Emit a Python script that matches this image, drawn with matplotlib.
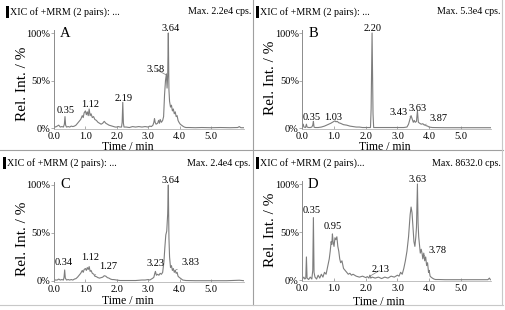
import matplotlib
matplotlib.use('Agg')
import matplotlib.pyplot as plt
from matplotlib.patches import Rectangle
from matplotlib.lines import Line2D

plt.rcParams['font.family'] = ['Liberation Serif', 'DejaVu Serif']

# ---- data ----
time_A = [0.00, 0.05, 0.10, 0.15, 0.20, 0.25, 0.30, 0.33, 0.35, 0.37, 0.40, 0.45, 0.50, 0.55, 0.60,
          0.65, 0.70, 0.75, 0.80, 0.85, 0.90, 0.93, 0.96, 1.00, 1.03, 1.06, 1.09, 1.12, 1.15, 1.18,
          1.22, 1.26, 1.30, 1.35, 1.40, 1.45, 1.50, 1.55, 1.60, 1.65, 1.70, 1.75, 1.80, 1.85, 1.90,
          1.95, 2.00, 2.05, 2.10, 2.15, 2.17, 2.19, 2.21, 2.23, 2.30, 2.40, 2.50, 2.60, 2.70, 2.80,
          2.90, 3.00, 3.05, 3.10, 3.15, 3.18, 3.20, 3.22, 3.25, 3.30, 3.33, 3.36, 3.38, 3.42, 3.46,
          3.49, 3.52, 3.55, 3.58, 3.60, 3.62, 3.64, 3.66, 3.68, 3.71, 3.74, 3.77, 3.80, 3.83, 3.86,
          3.89, 3.92, 3.95, 3.98, 4.02, 4.06, 4.10, 4.15, 4.20, 4.30, 4.50, 4.70, 5.00, 5.30, 5.60,
          5.85, 5.90, 5.95, 6.05]
int_A = [2, 1, 2, 3, 1, 1.5, 1, 4, 12, 3, 1, 1.5, 1, 2, 1.5,
         2, 3, 5, 7, 9, 13, 11, 16, 18, 14, 17, 13, 20, 13, 15,
         11, 12, 9, 8, 6, 5, 4, 5, 7, 5, 4, 3, 2.5, 2, 1.5,
         1, 1, 1.5, 1, 1, 6, 27, 5, 1, 1, 0.5, 1.5, 1, 1.5, 1,
         1.5, 1, 2, 1.5, 3, 6, 10, 6, 4, 5, 8, 5, 9, 6, 8,
         12, 35, 50, 57, 42, 55, 100, 40, 28, 22, 24, 18, 20, 15, 17,
         12, 13, 8, 6, 4, 3, 2, 1, 0.5, 0.5, 0.3, 0.5, 0.3, 0.5, 0.3,
         0.5, 1.5, 0.3, 0.3]

time_B = [0.00, 0.03, 0.05, 0.10, 0.13, 0.15, 0.20, 0.25, 0.30, 0.33, 0.35, 0.37, 0.40, 0.50, 0.60,
          0.70, 0.80, 0.90, 0.95, 1.00, 1.03, 1.06, 1.10, 1.15, 1.20, 1.30, 1.40, 1.50, 1.60, 1.70,
          1.80, 1.90, 2.00, 2.10, 2.15, 2.17, 2.20, 2.23, 2.25, 2.40, 2.60, 2.80, 3.00, 3.10, 3.20,
          3.30, 3.35, 3.40, 3.43, 3.46, 3.50, 3.53, 3.56, 3.60, 3.63, 3.66, 3.70, 3.75, 3.80, 3.85,
          3.87, 3.90, 3.95, 4.00, 4.10, 4.50, 5.00, 5.50, 5.95]
int_B = [1, 4, 1, 0.5, 4, 1, 0.5, 0.5, 1, 3, 7, 1, 0.5, 0.5, 1,
         2, 3.5, 5, 6, 7, 7.5, 6.5, 7, 5.5, 5, 3.5, 3, 2, 1.5, 1,
         1, 0.5, 0.5, 0.5, 0.5, 20, 100, 15, 0.5, 0.5, 0.5, 0.5, 0.5, 0.5, 0.5,
         1, 4, 10, 13, 10, 6, 8, 6, 7, 18, 6, 5, 4, 4.5, 3,
         3.5, 2.5, 2, 1, 0.5, 0.3, 0.3, 0.3, 0.3]

time_C = [0.00, 0.03, 0.10, 0.15, 0.20, 0.25, 0.30, 0.32, 0.34, 0.36, 0.40, 0.45, 0.50, 0.55, 0.60,
          0.65, 0.70, 0.75, 0.80, 0.85, 0.90, 0.93, 0.96, 1.00, 1.03, 1.06, 1.09, 1.12, 1.15, 1.18,
          1.22, 1.27, 1.30, 1.35, 1.40, 1.45, 1.50, 1.55, 1.60, 1.65, 1.70, 1.75, 1.80, 1.85, 1.90,
          2.00, 2.10, 2.20, 2.40, 2.60, 2.80, 2.90, 3.00, 3.05, 3.10, 3.15, 3.18, 3.21, 3.23, 3.26,
          3.30, 3.34, 3.38, 3.42, 3.46, 3.50, 3.53, 3.56, 3.59, 3.62, 3.64, 3.66, 3.68, 3.71, 3.74,
          3.77, 3.80, 3.83, 3.86, 3.89, 3.92, 3.95, 3.98, 4.02, 4.06, 4.10, 4.20, 4.50, 5.00, 5.50,
          5.90, 6.05]
int_C = [3, 1, 1, 2, 1, 1.5, 1, 4, 11.5, 3, 1, 1.5, 1, 1.5, 1,
         2, 2.5, 4, 6, 8, 11, 9, 12, 13, 11, 14, 12, 15, 10, 11,
         8, 7, 5, 4.5, 3.5, 3, 3.5, 4, 5.5, 5, 3.5, 3, 2, 1.5, 1.5,
         1, 0.5, 0.5, 0.5, 0.5, 1, 1, 1.5, 1, 2, 3, 4, 8, 10, 6,
         7, 6, 8, 7, 9, 20, 35, 48, 52, 70, 100, 45, 25, 14, 16,
         11, 13, 9, 11, 8, 9, 5, 4, 3, 2, 1, 0.5, 0.3, 0.3, 0.3,
         0.8, 0.3]

time_D = [0.00, 0.05, 0.08, 0.11, 0.13, 0.15, 0.20, 0.25, 0.30, 0.33, 0.35, 0.37, 0.40, 0.45, 0.50,
          0.55, 0.60, 0.65, 0.70, 0.75, 0.80, 0.85, 0.88, 0.91, 0.93, 0.95, 0.97, 1.00, 1.03, 1.06,
          1.09, 1.12, 1.15, 1.18, 1.21, 1.25, 1.30, 1.35, 1.40, 1.45, 1.50, 1.55, 1.60, 1.70, 1.80,
          1.90, 2.00, 2.05, 2.10, 2.13, 2.16, 2.20, 2.30, 2.40, 2.50, 2.60, 2.70, 2.80, 2.90, 3.00,
          3.05, 3.10, 3.15, 3.20, 3.25, 3.30, 3.35, 3.40, 3.43, 3.46, 3.49, 3.52, 3.55, 3.58, 3.60,
          3.63, 3.65, 3.67, 3.70, 3.72, 3.75, 3.78, 3.80, 3.83, 3.86, 3.89, 3.92, 3.95, 3.98, 4.00,
          4.03, 4.06, 4.10, 4.15, 4.20, 4.30, 4.50, 5.00, 5.50, 5.85, 5.90, 5.93]
int_D = [1, 3, 1, 2, 24, 2, 0.5, 3, 1, 10, 65, 8, 3, 1, 5,
         2, 6, 3, 8, 6, 14, 22, 30, 40, 37, 48, 40, 35, 44, 42,
         45, 35, 30, 22, 18, 20, 12, 10, 8, 6, 7, 5, 6, 4, 3,
         4, 2.5, 3.5, 2, 5, 2, 3, 2, 3, 1.5, 3, 2, 4, 3, 5,
         4, 8, 6, 12, 20, 30, 45, 68, 76, 70, 55, 40, 35, 45, 55,
         100, 60, 45, 35, 28, 32, 27, 22, 28, 20, 24, 15, 18, 8, 10,
         4, 3, 2, 1, 0.5, 0.5, 0.3, 0.3, 0.3, 0.3, 2, 0.3]

panel_letters = ['A', 'B', 'C', 'D']
headers_left = ['XIC of +MRM (2 pairs): ...', 'XIC of +MRM (2 pairs): ...',
                'XIC of +MRM (2 pairs): ...', 'XIC of +MRM (2 pairs)...']
headers_right = ['Max. 2.2e4 cps.', 'Max. 5.3e4 cps.', 'Max. 2.4e4 cps.', 'Max. 8632.0 cps.']

# peak labels: (text, peak time, peak height)
peaks_A = [('0.35', 0.35, 12), ('1.12', 1.12, 20), ('2.19', 2.19, 27), ('3.58', 3.57, 56), ('3.64', 3.64, 100)]
peaks_B = [('0.35', 0.35, 7), ('1.03', 1.03, 7.5), ('2.20', 2.20, 100), ('3.43', 3.41, 12),
           ('3.63', 3.63, 18), ('3.87', 3.90, 4)]
peaks_C = [('0.34', 0.34, 11.5), ('1.12', 1.12, 15), ('1.27', 1.30, 6), ('3.23', 3.23, 10),
           ('3.64', 3.64, 100), ('3.83', 3.85, 11)]
peaks_D = [('0.35', 0.35, 65), ('0.95', 0.95, 48), ('2.13', 2.13, 4), ('3.63', 3.63, 100), ('3.78', 3.82, 25)]

# ---- layout (pixels, origin top-left) ----
W, H = 506, 310
fig = plt.figure(figsize=(W / 100, H / 100), dpi=100)


def fx(x):
    return x / W


def fy(y):
    return 1 - y / H


panels = [
    dict(t=time_A, v=int_A, pk=peaks_A, x0=54, x1=244, top=33, bot=128, xmax=6.05,
         hy=12, hx=6.5, hr=251, xl=(128, 147), yl=(23, 84),
         lab={'0.35': (0.38, 18), '1.12': (1.15, 25), '2.19': (2.23, 31.5),
              '3.58': (3.22, 62), '3.64': (3.70, 105)}, leader={'3.58'}),
    dict(t=time_B, v=int_B, pk=peaks_B, x0=302.3, x1=491, top=33, bot=128, xmax=5.95,
         hy=12, hx=256.5, hr=501, xl=(385, 147), yl=(271, 78),
         lab={'0.35': (0.31, 11.5), '1.03': (0.98, 11.5), '2.20': (2.20, 105),
              '3.43': (3.02, 16), '3.63': (3.65, 21), '3.87': (4.28, 10.5)}, leader={'3.43', '3.87'}),
    dict(t=time_C, v=int_C, pk=peaks_C, x0=54, x1=244, top=185, bot=281, xmax=6.05,
         hy=163, hx=3.5, hr=251, xl=(128, 301), yl=(23, 239),
         lab={'0.34': (0.32, 19.5), '1.12': (1.15, 24), '1.27': (1.73, 15),
              '3.23': (3.22, 18), '3.64': (3.70, 105), '3.83': (4.34, 19)}, leader={'1.27', '3.83'}),
    dict(t=time_D, v=int_D, pk=peaks_D, x0=302.3, x1=491, top=184, bot=280, xmax=5.95,
         hy=163, hx=256.5, hr=501, xl=(379, 302), yl=(271, 230),
         lab={'0.35': (0.31, 72), '0.95': (0.95, 56), '2.13': (2.47, 10.5),
              '3.63': (3.64, 105), '3.78': (4.27, 31)}, leader={'2.13', '3.78'}),
]

trace_color = '#7d7d7d'
axis_color = '#8c8c8c'

for i, p in enumerate(panels):
    ppu = (p['bot'] - p['top']) / 100.0
    ylo, yhi = -1.0, 103.0
    ax_top = p['top'] - (yhi - 100) * ppu
    ax_bot = p['bot'] - ylo * ppu
    ax = fig.add_axes([fx(p['x0']), fy(ax_bot), fx(p['x1']) - fx(p['x0']), (ax_bot - ax_top) / H])
    ax.patch.set_alpha(0)
    ax.plot(p['t'], p['v'], color=trace_color, lw=0.8)
    ax.set_xlim(0, p['xmax'])
    ax.set_ylim(ylo, yhi)

    for s in ['top', 'right']:
        ax.spines[s].set_visible(False)
    ax.spines['left'].set_color(axis_color)
    ax.spines['bottom'].set_color('#b5b5b5')
    ax.spines['left'].set_linewidth(0.7)
    ax.spines['bottom'].set_linewidth(0.6)

    ax.set_xticks([0, 1, 2, 3, 4, 5])
    ax.set_xticklabels(['0.0', '1.0', '2.0', '3.0', '4.0', '5.0'])
    ax.set_yticks([0, 50, 100])
    ax.set_yticklabels(['0%', '50%', '100%'])
    ax.tick_params(axis='x', length=2, width=0.5, color=axis_color, direction='in', pad=2.5, labelsize=7.5)
    ax.tick_params(axis='y', length=2, width=0.5, color=axis_color, pad=0.5, labelsize=7.5)

    # panel letter
    ax.text(0.35, 100, panel_letters[i], fontsize=10.5, ha='center', va='center')

    # peak labels
    for name, pt, pv in p['pk']:
        tx, ty = p['lab'][name]
        if name in p['leader']:
            ax.annotate(name, xy=(pt, pv), xytext=(tx, ty), ha='center', va='center', fontsize=7.5,
                        annotation_clip=False,
                        arrowprops=dict(arrowstyle='-', color=trace_color, lw=0.5,
                                        shrinkA=1, shrinkB=0))
        else:
            ax.text(tx, ty, name, ha='center', va='center', fontsize=7.5)

    # axis titles
    fig.text(fx(p['xl'][0]), fy(p['xl'][1]), 'Time / min', ha='center', va='center', fontsize=8.5)
    fig.text(fx(p['yl'][0]), fy(p['yl'][1]), 'Rel. Int. / %', ha='center', va='center',
             rotation=90, fontsize=11)

    # header strip
    fig.patches.append(Rectangle((fx(p['hx']), fy(p['hy'] + 6)), 2.2 / W, 12 / H,
                                 transform=fig.transFigure, color='black', lw=0))
    fig.text(fx(p['hx'] + 4), fy(p['hy']), headers_left[i], ha='left', va='center', fontsize=7.2)
    fig.text(fx(p['hr']), fy(p['hy']), headers_right[i], ha='right', va='center', fontsize=7.2)

# panel frame lines
frame = '#a0a0a0'
fig.lines.append(Line2D([fx(253.5), fx(253.5)], [fy(0), fy(305)], transform=fig.transFigure, color=frame, lw=0.8))
fig.lines.append(Line2D([fx(0), fx(503)], [fy(150), fy(150)], transform=fig.transFigure, color=frame, lw=0.8))
fig.lines.append(Line2D([fx(502.5), fx(502.5)], [fy(0), fy(305)], transform=fig.transFigure, color='#c8c8c8', lw=0.8))
fig.lines.append(Line2D([fx(0), fx(503)], [fy(305), fy(305)], transform=fig.transFigure, color='#c8c8c8', lw=0.8))

fig.savefig('out.png', dpi=100)
